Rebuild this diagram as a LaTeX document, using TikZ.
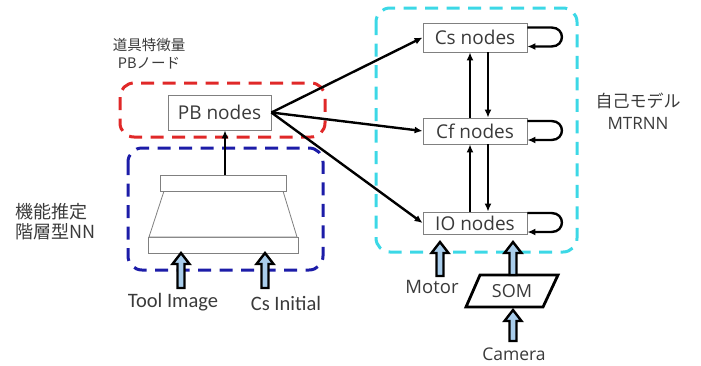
\documentclass[tikz,border=0pt]{standalone}
\usepackage{fontspec}
\setmainfont{Open Sans}
\newfontfamily\jpfont{Noto Sans CJK JP}
\newfontfamily\calfont{Carlito}
\usetikzlibrary{arrows.meta}
\definecolor{txt}{HTML}{3A3A3A}
\definecolor{boxline}{HTML}{808080}
\definecolor{dred}{HTML}{E02828}
\definecolor{dblue}{HTML}{1C1CA8}
\definecolor{dcyan}{HTML}{3CD8E6}
\definecolor{harrowfill}{HTML}{A9CDEB}
\tikzset{
  nodebox/.style={draw=boxline, line width=0.8pt, fill=white, text=txt, font=\fontsize{19}{21}\selectfont, inner sep=0pt, minimum width=104pt},
  lbl/.style={text=txt, inner sep=0pt},
  conn/.style={line width=2.4pt, -{Latex[length=8pt,width=7pt]}},
  grp/.style={line width=3pt, rounded corners=14pt, dash pattern=on 13pt off 8.5pt},
  hollow/.style={draw=black, line width=2.4pt, fill=harrowfill, line join=miter},
  layer/.style={draw=boxline, line width=0.8pt, fill=white},
}
\newcommand\hollowup[3]{% x, tip y, bottom y
  \draw[hollow] (#1-3.5,#3) -- (#1-3.5,#2+11) -- (#1-8.5,#2+11) -- (#1,#2) -- (#1+8.5,#2+11) -- (#1+3.5,#2+11) -- (#1+3.5,#3) -- cycle;}
\begin{document}
\begin{tikzpicture}[x=1pt,y=-1pt]
\useasboundingbox (0,0) rectangle (701,365);
% group boxes
\draw[grp, draw=dred] (120,83) rectangle (325,137);
\draw[grp, draw=dblue] (128,148) rectangle (323,270);
\draw[grp, draw=dcyan] (376,8) rectangle (577,252);

% labels
\node[lbl, font=\jpfont\fontsize{14.5}{18}\selectfont, align=center] (lpb) at (149,54) {道具特徴量\\PBノード};
\node[lbl, font=\jpfont\fontsize{18}{20}\selectfont, align=left, anchor=west] (lnn) at (15,222) {機能推定\\階層型NN};
\node[lbl, font=\jpfont\fontsize{17}{22}\selectfont, align=center] (lmt) at (638,111) {自己モデル\\{\fontspec{Open Sans}MTRNN}};

% hierarchical NN
\draw[layer] (148,237) rectangle (298,253);
\draw[layer] (164,191) -- (283,191) -- (297,237) -- (149,237) -- cycle;
\draw[layer] (160,175) rectangle (286,191);
\coordinate (nntop) at (225,175);

% nodes
\node[nodebox, minimum width=103pt, minimum height=35pt] (pb) at (219.5,112.5) {PB nodes};
\node[nodebox, minimum height=29pt] (cs) at (475,37.5) {Cs nodes};
\node[nodebox, minimum height=26pt] (cf) at (475,131) {Cf nodes};
\node[nodebox, minimum height=22pt] (io) at (475,223) {IO nodes};

\draw[conn] (nntop) -- (pb.south -| nntop);

\draw[conn] (pb.east) -- (cs.west);
\draw[conn] (pb.east) -- (cf.west);
\draw[conn] (pb.east) -- (io.west);

% vertical connections
\draw[conn] ([xshift=-5pt]cf.north) -- ([xshift=-5pt]cs.south);
\draw[conn] ([xshift=13pt]cs.south) -- ([xshift=13pt]cf.north);
\draw[conn] ([xshift=-5pt]io.north) -- ([xshift=-5pt]cf.south);
\draw[conn] ([xshift=13pt]cf.south) -- ([xshift=13pt]io.north);

% self loops
\foreach \n in {cs,cf,io}{
  \draw[conn]
    ([yshift=10pt]\n.east) -- ([xshift=24pt,yshift=10pt]\n.east)
      .. controls ([xshift=38pt,yshift=10pt]\n.east) and ([xshift=38pt,yshift=-9pt]\n.east) ..
      ([xshift=24pt,yshift=-9pt]\n.east) -- ([yshift=-9pt]\n.east);
}

% inputs
\node[lbl, font=\calfont\fontsize{20.5}{22}\selectfont] (tool) at (173,302) {Tool Image};
\node[lbl, font=\calfont\fontsize{20.5}{22}\selectfont] (csi) at (286,303) {Cs Initial};
\hollowup{181}{253}{288}
\hollowup{265}{253}{288}

\node[lbl, font=\fontsize{18.5}{20}\selectfont] (motor) at (432,287) {Motor};
\hollowup{440}{242}{276}

\draw[line width=2.8pt, line join=miter] (480,275) -- (558,275) -- (543,307) -- (466,307) -- cycle;
\node[lbl, font=\fontsize{18}{20}\selectfont] (som) at (512,291) {SOM};
\hollowup{513}{242}{275}

\node[lbl, font=\fontsize{17.5}{20}\selectfont] (cam) at (514,354) {Camera};
\hollowup{513}{310}{341}
\end{tikzpicture}
\end{document}
